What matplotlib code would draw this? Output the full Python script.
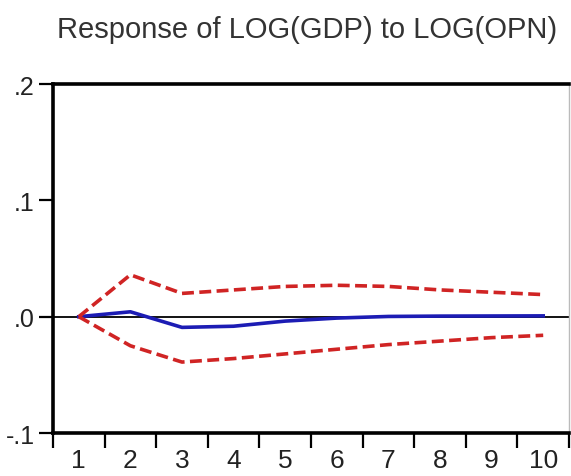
import matplotlib

matplotlib.use("Agg")
import matplotlib.pyplot as plt
import numpy as np

plt.rcParams["font.family"] = ["Liberation Sans", "DejaVu Sans"]

# impulse response of LOG(GDP) to a LOG(OPN) shock, with +/- 2 S.E. bands
periods = [1, 2, 3, 4, 5, 6, 7, 8, 9, 10]
response = [0.0, 0.0042, -0.0092, -0.0082, -0.0038, -0.0012, 0.0002, 0.0005, 0.0006, 0.0007]
upper_band = [0.0, 0.036, 0.020, 0.023, 0.026, 0.027, 0.026, 0.023, 0.021, 0.019]
lower_band = [0.0, -0.025, -0.039, -0.036, -0.032, -0.028, -0.024, -0.021, -0.018, -0.016]

y_ticks = [-0.1, 0.0, 0.1, 0.2]
y_tick_labels = ["-.1", ".0", ".1", ".2"]
title = "Response of LOG(GDP) to LOG(OPN)"

fig = plt.figure(figsize=(5.71, 4.77), dpi=100)
ax = fig.add_axes([0.0928, 0.0901, 0.9037, 0.7317])

ax.axhline(0, color="black", linewidth=1.3, zorder=1)
ax.plot(periods, upper_band, color="#d02424", linewidth=2.6,
        linestyle=(0, (3.3, 1.5)), zorder=3)
ax.plot(periods, lower_band, color="#d02424", linewidth=2.6,
        linestyle=(0, (3.3, 1.5)), zorder=3)
ax.plot(periods, response, color="#1c1cb4", linewidth=2.6, zorder=2)

ax.set_xlim(0.5, 10.5)
ax.set_ylim(-0.1, 0.2)

# EViews style: ticks between periods, labels centred on periods
ax.set_xticks(np.arange(0.5, 11, 1))
ax.set_xticklabels([])
ax.set_xticks(periods, minor=True)
ax.set_xticklabels([str(p) for p in periods], minor=True)
ax.tick_params(axis="x", which="major", direction="out", length=10.5, width=1.6)
ax.tick_params(axis="x", which="minor", length=0, pad=10.5, labelsize=19,
               labelcolor="#222222")

ax.set_yticks(y_ticks)
ax.set_yticklabels(y_tick_labels)
ax.tick_params(axis="y", direction="out", length=10, width=1.6, pad=3,
               labelsize=18, labelcolor="#222222")

for side in ("left", "top", "bottom"):
    ax.spines[side].set_linewidth(2.6)
    ax.spines[side].set_color("black")
ax.spines["right"].set_linewidth(1.0)
ax.spines["right"].set_color("#bbbbbb")

fig.text(307.5 / 571, 1 - 38 / 477, title, ha="center", va="baseline",
         fontsize=21, color="#333333")

fig.savefig("out.png", dpi=100)
plt.close(fig)
